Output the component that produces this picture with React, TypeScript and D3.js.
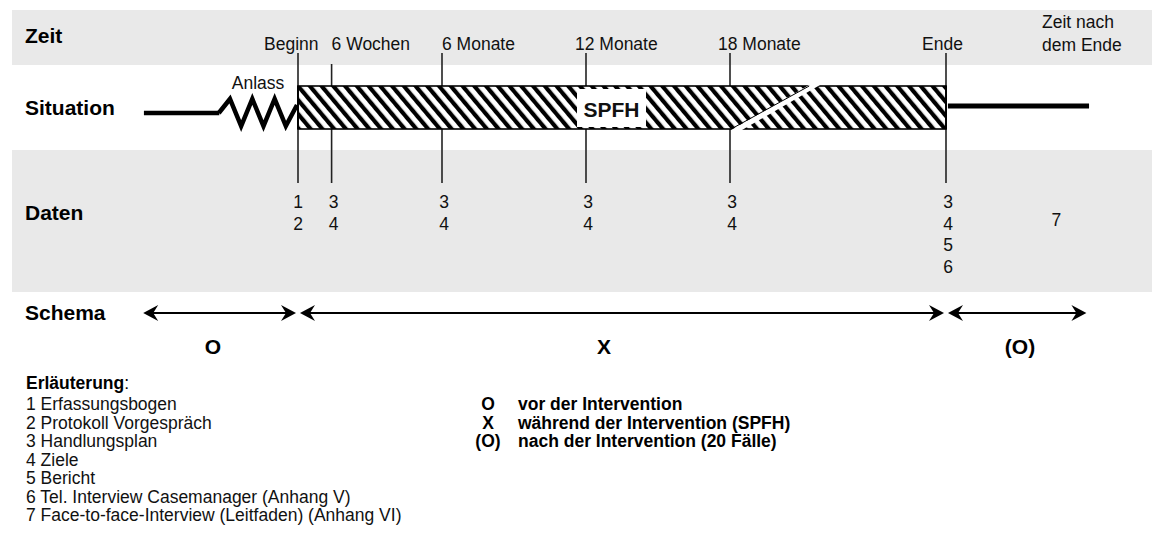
import React from 'react';
import * as d3 from 'd3';

// time axis (months after start of SPFH)
const milestones = ['Beginn', '6 Wochen', '6 Monate', '12 Monate', '18 Monate', 'Ende'];
const milestoneMonths = [0, 1.4, 6, 12, 18, 27];
const datenCodes = [['1', '2'], ['3', '4'], ['3', '4'], ['3', '4'], ['3', '4'], ['3', '4', '5', '6']];
const afterCode = '7';

const rowLabels = ['Zeit', 'Situation', 'Daten', 'Schema'];

const phaseLabels = ['O', 'X', '(O)'];
const phaseStart = [-6.45, 0, 27];
const phaseEnd = [0, 27, 32.85];

const legendItems = [
  '1 Erfassungsbogen',
  '2 Protokoll Vorgespräch',
  '3 Handlungsplan',
  '4 Ziele',
  '5 Bericht',
  '6 Tel. Interview Casemanager (Anhang V)',
  '7 Face-to-face-Interview (Leitfaden) (Anhang VI)',
];
const schemaSymbols = ['O', 'X', '(O)'];
const schemaTexts = ['vor der Intervention', 'während der Intervention (SPFH)', 'nach der Intervention (20 Fälle)'];

const W = 1152;
const H = 547;
const FONT = '"Liberation Sans", Arial, Helvetica, sans-serif';

// layout offsets for the milestone captions (relative to their tick)
const labelDx = [-34, 0, 0, -11, -12, -24];

export default function App() {
  const x = d3.scaleLinear().domain([0, 27]).range([298, 946]);

  const barTop = 86;
  const barBot = 129;
  const sitY = 113;

  // zigzag between the lead-in line and the start of the bar
  const zStart = x(-3.3);
  const zEnd = x(0) - 1;
  const nSeg = 7;
  const zig: [number, number][] = [[zStart, sitY]];
  for (let i = 1; i < nSeg; i++) {
    zig.push([zStart + ((zEnd - zStart) * i) / nSeg, i % 2 === 1 ? 99 : 126]);
  }
  zig.push([zEnd, 105]);
  const zigPath = d3.line()(zig) || '';

  // break in the bar after 18 Monate
  const brk = [
    [x(18.05), barBot + 1],
    [x(18.5), barBot + 1],
    [x(21.75), barTop - 1],
    [x(21.3), barTop - 1],
  ];

  const arrowHead = (tx: number, ty: number, dir: number) => {
    const p = d3.path();
    p.moveTo(tx, ty);
    p.lineTo(tx - dir * 15, ty - 8);
    p.lineTo(tx - dir * 10, ty);
    p.lineTo(tx - dir * 15, ty + 8);
    p.closePath();
    return p.toString();
  };
  const schemaY = 313;
  const legendY = 410;
  const legendStep = 18.5;

  return (
    <div style={{ position: 'absolute', left: 0, top: 0 }}>
      <svg width={W} height={H} style={{ display: 'block', fontFamily: FONT }}>
        <defs>
          <pattern id="hatch" patternUnits="userSpaceOnUse" width={9} height={9} patternTransform="rotate(-40)">
            <rect x={0} y={0} width={9} height={9} fill="#fff" />
            <rect x={0} y={0} width={4.2} height={9} fill="#000" />
          </pattern>
        </defs>
        <rect x={0} y={0} width={W} height={H} fill="#fff" />

        {/* background bands */}
        <rect x={12} y={10} width={W - 12} height={55} fill="#e9e9e9" />
        <rect x={12} y={150} width={W - 12} height={142} fill="#e9e9e9" />

        {/* row labels */}
        {rowLabels.map((t, i) => (
          <text key={t} x={25} y={[43, 115, 220, 320][i]} fontSize={21} fontWeight="bold" fill="#000">
            {t}
          </text>
        ))}

        {/* milestone ticks */}
        {milestoneMonths.map((m, i) => (
          <line
            key={'tick' + i}
            x1={x(m)}
            x2={x(m)}
            y1={i === 1 ? 64 : 53}
            y2={183}
            stroke="#222"
            strokeWidth={1.6}
          />
        ))}
        {milestones.map((t, i) => (
          <text key={'ml' + i} x={x(milestoneMonths[i]) + labelDx[i]} y={50} fontSize={17.5} fill="#111">
            {t}
          </text>
        ))}
        <text x={1042} y={28} fontSize={17.5} fill="#111">Zeit nach</text>
        <text x={1042} y={51} fontSize={17.5} fill="#111">dem Ende</text>

        {/* Situation */}
        <line x1={x(-6.42)} x2={zStart + 0.5} y1={sitY} y2={sitY} stroke="#000" strokeWidth={4.5} />
        <path d={zigPath} fill="none" stroke="#000" strokeWidth={4.5} strokeLinejoin="miter" />
        <text x={258} y={89} fontSize={17.5} textAnchor="middle" fill="#111">Anlass</text>

        <rect
          x={x(0)}
          y={barTop}
          width={x(27) - x(0)}
          height={barBot - barTop}
          fill="url(#hatch)"
          stroke="#000"
          strokeWidth={1.6}
        />
        <polygon points={brk.map((p) => p.join(',')).join(' ')} fill="#fff" />
        <line x1={brk[0][0]} y1={brk[0][1] - 1} x2={brk[3][0]} y2={brk[3][1] + 1} stroke="#000" strokeWidth={1} />
        <line x1={x(0)} x2={x(0)} y1={barTop} y2={barBot} stroke="#000" strokeWidth={1.8} />
        <line x1={x(27)} x2={x(27)} y1={barTop} y2={barBot} stroke="#000" strokeWidth={1.8} />

        <rect x={577} y={89} width={69} height={38} fill="#fff" />
        <text x={611.5} y={117} fontSize={21} fontWeight="bold" textAnchor="middle" fill="#111">SPFH</text>

        <line x1={x(27.08)} x2={x(32.96)} y1={106} y2={106} stroke="#000" strokeWidth={5} />

        {/* Daten */}
        {datenCodes.map((codes, i) =>
          codes.map((c, j) => (
            <text
              key={'d' + i + '-' + j}
              x={x(milestoneMonths[i]) + (i === 0 ? 0 : 2)}
              y={208 + j * 21.5}
              fontSize={17.5}
              textAnchor="middle"
              fill="#111"
            >
              {c}
            </text>
          ))
        )}
        <text x={x(31.6)} y={226} fontSize={17.5} textAnchor="middle" fill="#111">{afterCode}</text>

        {/* Schema */}
        {phaseLabels.map((lbl, i) => {
          const a = x(phaseStart[i]) + (i === 0 ? 0 : 2);
          const b = x(phaseEnd[i]) - (i === 2 ? 0 : 2);
          return (
            <g key={'ph' + i}>
              <line x1={a + 8} x2={b - 8} y1={schemaY} y2={schemaY} stroke="#000" strokeWidth={2} />
              <path d={arrowHead(a, schemaY, -1)} fill="#000" />
              <path d={arrowHead(b, schemaY, 1)} fill="#000" />
              <text
                x={i === 0 ? 213 : i === 1 ? 604 : 1020}
                y={354}
                fontSize={21}
                fontWeight="bold"
                textAnchor="middle"
                fill="#000"
              >
                {lbl}
              </text>
            </g>
          );
        })}

        {/* Erläuterung */}
        <text x={26} y={389} fontSize={17.5} fill="#000">
          <tspan fontWeight="bold">Erläuterung</tspan>:
        </text>
        {legendItems.map((t, i) => (
          <text key={'lg' + i} x={26} y={legendY + i * legendStep} fontSize={17.5} fill="#111">
            {t}
          </text>
        ))}
        {schemaSymbols.map((s, i) => (
          <g key={'ss' + i}>
            <text x={488} y={legendY + i * legendStep} fontSize={17.5} fontWeight="bold" textAnchor="middle" fill="#000">
              {s}
            </text>
            <text x={518} y={legendY + i * legendStep} fontSize={17.5} fontWeight="bold" fill="#000">
              {schemaTexts[i]}
            </text>
          </g>
        ))}
      </svg>
    </div>
  );
}
